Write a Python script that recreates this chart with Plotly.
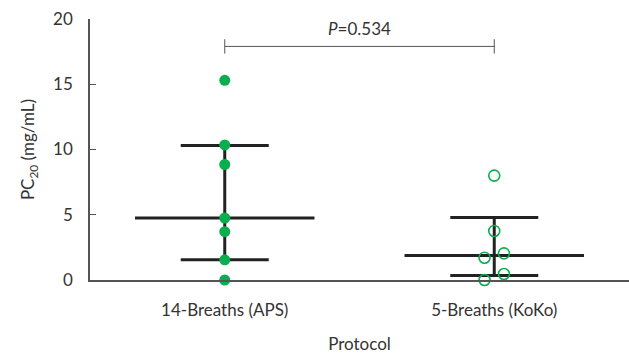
import plotly.graph_objects as go

categories = ["14-Breaths (APS)", "5-Breaths (KoKo)"]
aps_values = [15.3, 10.35, 8.85, 4.75, 3.7, 1.55, 0.0]
koko_values = [8.0, 3.76, 1.71, 2.04, 0.46, 0.0]
koko_jitter = [0.0, 0.0, -0.036, 0.036, 0.036, -0.036]
medians = [4.75, 1.88]
q1 = [1.55, 0.34]
q3 = [10.3, 4.78]
p_text = "<i>P</i>=0.534"
bracket_y = 17.9
y_ticks = [0, 5, 10, 15, 20]

GREEN = "#0BAE4F"
DARK = "#222222"
AXIS = "#555555"
FONT = "Lato"

fig = go.Figure()

# median lines
for i, m in enumerate(medians):
    fig.add_trace(go.Scatter(x=[i - 0.333, i + 0.333], y=[m, m], mode="lines",
                             line=dict(color=DARK, width=3), showlegend=False, hoverinfo="skip"))
# IQR whiskers
fig.add_trace(go.Scatter(
    x=[0, 1], y=medians, mode="markers", marker=dict(size=1, opacity=0),
    error_y=dict(type="data", symmetric=False,
                 array=[q3[i] - medians[i] for i in range(2)],
                 arrayminus=[medians[i] - q1[i] for i in range(2)],
                 color=DARK, thickness=3, width=44),
    showlegend=False, hoverinfo="skip"))

fig.add_trace(go.Scatter(x=[0] * len(aps_values), y=aps_values, mode="markers",
                         marker=dict(color=GREEN, size=11, line=dict(width=0)),
                         showlegend=False, cliponaxis=False))
fig.add_trace(go.Scatter(x=[1 + j for j in koko_jitter], y=koko_values, mode="markers",
                         marker=dict(color=GREEN, size=11, symbol="circle-open",
                                     line=dict(width=1.6)),
                         showlegend=False, cliponaxis=False))

# significance bracket
fig.add_shape(type="line", x0=0, x1=1, y0=bracket_y, y1=bracket_y, line=dict(color="#555", width=1))
for xx in [0, 1]:
    fig.add_shape(type="line", x0=xx, x1=xx, y0=bracket_y + 0.55, y1=bracket_y - 0.55,
                  line=dict(color="#555", width=1))
fig.add_annotation(x=0.5, y=bracket_y + 1.4, text=p_text, showarrow=False,
                   font=dict(family=FONT, size=17, color="#333"))

fig.update_layout(
    width=629, height=354, margin=dict(l=90, r=0, t=19, b=74),
    plot_bgcolor="white", paper_bgcolor="white",
    font=dict(family=FONT, size=17, color="#333"),
    xaxis=dict(range=[-0.5, 1.5], tickvals=[0, 1], ticktext=categories, showgrid=False,
               zeroline=False, showline=True, linecolor=AXIS, linewidth=1.5, ticks="",
               ticklabelstandoff=14,
               title=dict(text="Protocol", standoff=20, font=dict(size=17))),
    yaxis=dict(range=[0, 20], tickvals=y_ticks, showgrid=False, zeroline=False,
               showline=True, linecolor=AXIS, linewidth=1.5, ticks="inside", ticklen=6,
               tickcolor=AXIS, tickwidth=1.2, ticklabelstandoff=12,
               title=dict(text="PC<sub>20</sub> (mg/mL)", standoff=14, font=dict(size=17))),
)

fig.write_html("out.html")
